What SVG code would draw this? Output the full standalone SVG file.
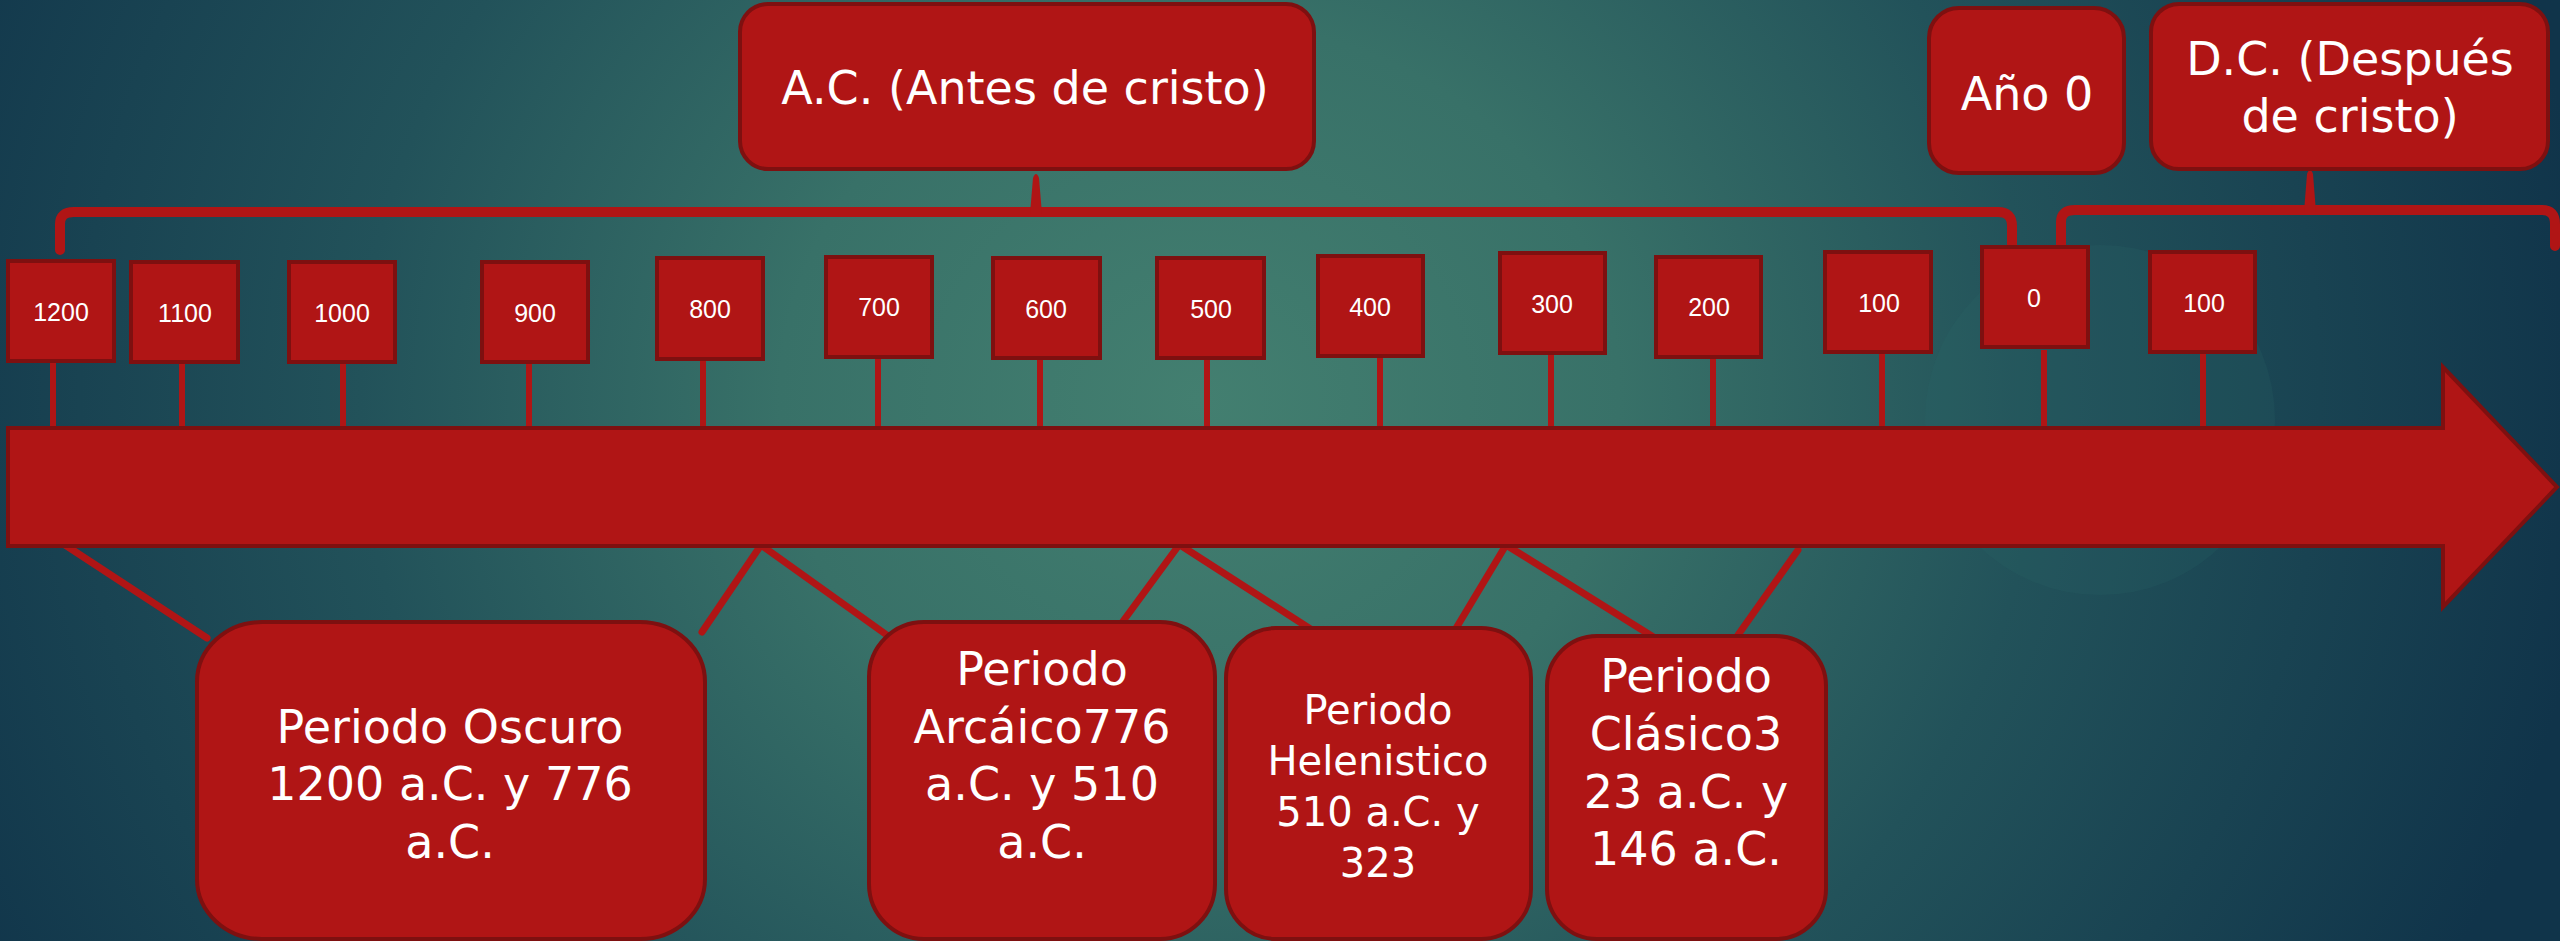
<svg xmlns="http://www.w3.org/2000/svg" width="2560" height="941" viewBox="0 0 2560 941">
<defs>
<radialGradient id="bg" gradientUnits="userSpaceOnUse" cx="1200" cy="400" r="1400" gradientTransform="translate(1200 400) scale(1 0.9) translate(-1200 -400)">
<stop offset="0" stop-color="#437f70"/>
<stop offset="0.3" stop-color="#387168"/>
<stop offset="0.6" stop-color="#22525a"/>
<stop offset="1" stop-color="#10344a"/>
</radialGradient>
<style>
.box{fill:#b01515;stroke:#7e1010;stroke-width:4}
.yr{fill:#ffffff;font-family:"Liberation Sans",Arial,sans-serif;font-size:25px;text-anchor:middle}
.big{fill:#ffffff;font-family:"DejaVu Sans","Liberation Sans",sans-serif;font-size:46px;text-anchor:middle}
.mid{fill:#ffffff;font-family:"DejaVu Sans","Liberation Sans",sans-serif;font-size:40px;text-anchor:middle}
.stem{stroke:#b01515;stroke-width:6;fill:none}
.con{stroke:#b01515;stroke-width:7;stroke-linecap:round;fill:none}
.brace{stroke:#b01515;stroke-width:10;stroke-linecap:round;stroke-linejoin:round;fill:none}
</style>
</defs>
<rect x="0" y="0" width="2560" height="941" fill="url(#bg)"/>
<circle cx="2100" cy="420" r="175" fill="#2c6a6a" opacity="0.18"/>

<g id="connectors">
<line class="stem" x1="53" y1="361" x2="53" y2="432"/>
<line class="stem" x1="182" y1="362" x2="182" y2="432"/>
<line class="stem" x1="343" y1="362" x2="343" y2="432"/>
<line class="stem" x1="529" y1="362" x2="529" y2="432"/>
<line class="stem" x1="703" y1="359" x2="703" y2="432"/>
<line class="stem" x1="878" y1="357" x2="878" y2="432"/>
<line class="stem" x1="1040" y1="358" x2="1040" y2="432"/>
<line class="stem" x1="1207" y1="358" x2="1207" y2="432"/>
<line class="stem" x1="1380" y1="356" x2="1380" y2="432"/>
<line class="stem" x1="1551" y1="353" x2="1551" y2="432"/>
<line class="stem" x1="1713" y1="357" x2="1713" y2="432"/>
<line class="stem" x1="1882" y1="352" x2="1882" y2="432"/>
<line class="stem" x1="2044" y1="350" x2="2044" y2="432"/>
<line class="stem" x1="2203" y1="352" x2="2203" y2="432"/>
<path class="brace" d="M60 250 L60 224 Q60 212 74 212 L1998 212 Q2012 212 2012 226 L2012 246"/>
<path d="M1030 214 L1033 178 Q1036 170 1039 178 L1042 214 Z" fill="#b01515"/>
<path class="brace" d="M2061 246 L2061 222 Q2061 210 2075 210 L2542 210 Q2555 210 2555 224 L2555 246"/>
<path d="M2304 212 L2307 174 Q2310 166 2313 174 L2316 212 Z" fill="#b01515"/>
<line class="con" x1="62" y1="543" x2="207" y2="638"/>
<line class="con" x1="702" y1="632" x2="761" y2="545"/>
<line class="con" x1="761" y1="545" x2="891" y2="638"/>
<line class="con" x1="1179" y1="545" x2="1121" y2="624"/>
<line class="con" x1="1180" y1="545" x2="1312" y2="630"/>
<line class="con" x1="1506" y1="545" x2="1455" y2="630"/>
<line class="con" x1="1506" y1="545" x2="1655" y2="638"/>
<line class="con" x1="1798" y1="550" x2="1738" y2="635"/>
</g>

<g id="timeline-arrow">
<polygon class="box" points="8,428 2443,428 2443,367 2557,487 2443,607 2443,546 8,546"/>
</g>

<g id="y1200"><rect class="box" x="8" y="261" width="106" height="100"/><text class="yr" x="61" y="321">1200</text></g>
<g id="y1100"><rect class="box" x="131" y="262" width="107" height="100"/><text class="yr" x="185" y="322">1100</text></g>
<g id="y1000"><rect class="box" x="289" y="262" width="106" height="100"/><text class="yr" x="342" y="322">1000</text></g>
<g id="y900"><rect class="box" x="482" y="262" width="106" height="100"/><text class="yr" x="535" y="322">900</text></g>
<g id="y800"><rect class="box" x="657" y="258" width="106" height="101"/><text class="yr" x="710" y="318">800</text></g>
<g id="y700"><rect class="box" x="826" y="257" width="106" height="100"/><text class="yr" x="879" y="316">700</text></g>
<g id="y600"><rect class="box" x="993" y="258" width="107" height="100"/><text class="yr" x="1046" y="318">600</text></g>
<g id="y500"><rect class="box" x="1157" y="258" width="107" height="100"/><text class="yr" x="1211" y="318">500</text></g>
<g id="y400"><rect class="box" x="1318" y="256" width="105" height="100"/><text class="yr" x="1370" y="316">400</text></g>
<g id="y300"><rect class="box" x="1500" y="253" width="105" height="100"/><text class="yr" x="1552" y="313">300</text></g>
<g id="y200"><rect class="box" x="1656" y="257" width="105" height="100"/><text class="yr" x="1709" y="316">200</text></g>
<g id="y100bc"><rect class="box" x="1825" y="252" width="106" height="100"/><text class="yr" x="1879" y="312">100</text></g>
<g id="y0"><rect class="box" x="1982" y="247" width="106" height="100"/><text class="yr" x="2034" y="307">0</text></g>
<g id="y100ad"><rect class="box" x="2150" y="252" width="105" height="100"/><text class="yr" x="2204" y="312">100</text></g>

<g id="ac"><rect class="box" x="740" y="4" width="574" height="165" rx="28"/><text class="big" x="1025" y="104">A.C. (Antes de cristo)</text></g>
<g id="ano0"><rect class="box" x="1929" y="8" width="195" height="165" rx="30"/><text class="big" x="2027" y="110">Año 0</text></g>
<g id="dc"><rect class="box" x="2151" y="4" width="397" height="165" rx="28"/><text class="big" x="2350" y="75">D.C. (Después</text><text class="big" x="2350" y="132">de cristo)</text></g>

<g id="oscuro"><rect class="box" x="197" y="622" width="508" height="317" rx="65" ry="60"/>
<text class="big" x="450" y="743">Periodo Oscuro</text><text class="big" x="450" y="800">1200 a.C. y 776</text><text class="big" x="450" y="858">a.C.</text></g>
<g id="arcaico"><rect class="box" x="869" y="622" width="346" height="317" rx="55"/>
<text class="big" x="1042" y="685">Periodo</text><text class="big" x="1042" y="743">Arcáico776</text><text class="big" x="1042" y="800">a.C. y 510</text><text class="big" x="1042" y="858">a.C.</text></g>
<g id="helenistico"><rect class="box" x="1226" y="628" width="305" height="311" rx="50"/>
<text class="mid" x="1378" y="724">Periodo</text><text class="mid" x="1378" y="775">Helenistico</text><text class="mid" x="1378" y="826">510 a.C. y</text><text class="mid" x="1378" y="877">323</text></g>
<g id="clasico"><rect class="box" x="1547" y="636" width="279" height="303" rx="50"/>
<text class="big" x="1686" y="692">Periodo</text><text class="big" x="1686" y="750">Clásico3</text><text class="big" x="1686" y="808">23 a.C. y</text><text class="big" x="1686" y="865">146 a.C.</text></g>
</svg>
